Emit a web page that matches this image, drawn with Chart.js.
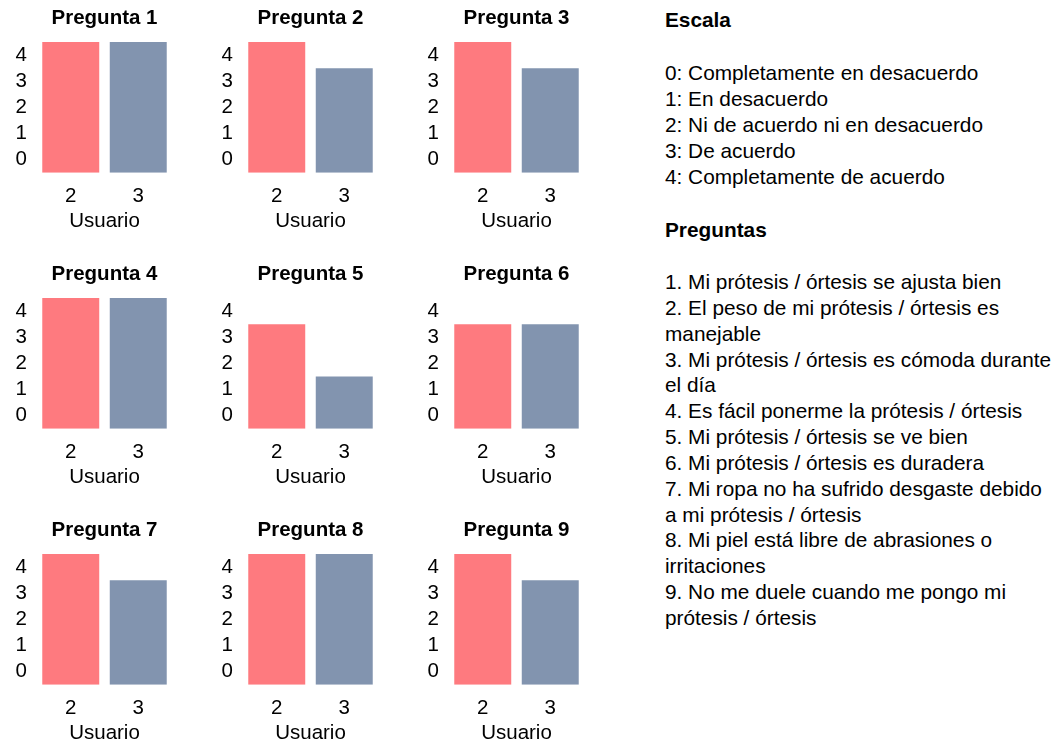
<!DOCTYPE html>
<html lang="es">
<head>
<meta charset="utf-8">
<title>Evaluación de prótesis / órtesis</title>
<script src="https://cdn.jsdelivr.net/npm/chart.js@4.4.1/dist/chart.umd.min.js"></script>
<style>
  body{margin:0;background:#fff;font-family:"Liberation Sans",Arial,sans-serif;color:#000}
  #wrap{position:relative;width:1055px;height:747px;overflow:hidden}
  .panel{position:absolute}
  .notes{position:absolute;left:665px;font-size:20.8px;line-height:26px;white-space:nowrap}
  .notes b{font-weight:bold}
</style>
</head>
<body>
<div id="wrap">
  <div class="notes" id="scaleHead" style="top:7px"><b>Escala</b></div>
  <div class="notes" id="scaleList" style="top:60px"></div>
  <div class="notes" id="questHead" style="top:217px"><b>Preguntas</b></div>
  <div class="notes" id="questList" style="top:269px;line-height:25.85px"></div>
</div>
<script>
(function () {
  'use strict';

  var QUESTIONS = ['Pregunta 1', 'Pregunta 2', 'Pregunta 3', 'Pregunta 4', 'Pregunta 5', 'Pregunta 6', 'Pregunta 7', 'Pregunta 8', 'Pregunta 9'];
  var USERS = ['2', '3'];
  var USER_2 = [4, 4, 4, 4, 3, 3, 4, 4, 4];
  var USER_3 = [4, 3, 3, 4, 1, 3, 3, 4, 3];
  var Y_TICKS = [0, 1, 2, 3, 4];
  var COLORS = ['#FE7A7F', '#8294AF'];

  var SCALE_TEXT = [
    '0: Completamente en desacuerdo',
    '1: En desacuerdo',
    '2: Ni de acuerdo ni en desacuerdo',
    '3: De acuerdo',
    '4: Completamente de acuerdo'
  ];
  var QUESTION_TEXT = [
    '1. Mi prótesis / órtesis se ajusta bien',
    '2. El peso de mi prótesis / órtesis es',
    'manejable',
    '3. Mi prótesis / órtesis es cómoda durante',
    'el día',
    '4. Es fácil ponerme la prótesis / órtesis',
    '5. Mi prótesis / órtesis se ve bien',
    '6. Mi prótesis / órtesis es duradera',
    '7. Mi ropa no ha sufrido desgaste debido',
    'a mi prótesis / órtesis',
    '8. Mi piel está libre de abrasiones o',
    'irritaciones',
    '9. No me duele cuando me pongo mi',
    'prótesis / órtesis'
  ];

  // cada valor ocupa una banda completa: la barra va del borde inferior de la banda 0
  // hasta el borde superior de la banda del valor
  var Y_MIN = -0.5;
  var Y_MAX = 4.5;
  var FONT_SIZE = 20.5;

  function fillLines(id, lines) {
    document.getElementById(id).innerHTML = lines.map(function (line) {
      return '<div>' + line + '</div>';
    }).join('');
  }

  fillLines('scaleList', SCALE_TEXT);
  fillLines('questList', QUESTION_TEXT);

  Chart.defaults.font.family = '"Liberation Sans", Arial, sans-serif';
  Chart.defaults.color = '#000';

  var wrap = document.getElementById('wrap');

  QUESTIONS.forEach(function (title, i) {
    var canvas = document.createElement('canvas');
    canvas.width = 206;
    canvas.height = 250;
    canvas.className = 'panel';
    canvas.style.left = (i % 3) * 206 + 'px';
    canvas.style.top = Math.floor(i / 3) * 256 + 'px';
    wrap.appendChild(canvas);

    var values = [USER_2[i], USER_3[i]];
    new Chart(canvas, {
      type: 'bar',
      data: {
        labels: USERS,
        datasets: [{
          data: values.map(function (v) { return [Y_MIN, v + 0.5]; }),
          backgroundColor: COLORS,
          borderWidth: 0,
          barPercentage: 0.844,
          categoryPercentage: 1
        }]
      },
      options: {
        responsive: false,
        animation: false,
        layout: {padding: {left: 0, right: 34, top: 0, bottom: 16}},
        plugins: {
          legend: {display: false},
          tooltip: {enabled: false},
          title: {display: true, text: title, fullSize: false, color: '#000', font: {size: FONT_SIZE, weight: 'bold'}, lineHeight: 1.2, padding: {top: 5.7, bottom: 11.7}}
        },
        scales: {
          x: {
            grid: {display: false, drawTicks: false},
            border: {display: false},
            ticks: {font: {size: FONT_SIZE}, padding: 11.7, maxRotation: 0},
            title: {display: true, text: 'Usuario', font: {size: FONT_SIZE}, padding: 0},
            afterFit: function (scale) { scale.height = 61.3; }
          },
          y: {
            min: Y_MIN,
            max: Y_MAX,
            grid: {display: false, drawTicks: false},
            border: {display: false},
            ticks: {font: {size: FONT_SIZE}, padding: 10},
            afterBuildTicks: function (scale) {
              scale.ticks = Y_TICKS.map(function (v) { return {value: v}; });
            },
            afterFit: function (scale) { scale.width = 37; }
          }
        }
      }
    });
  });
}());
</script>
</body>
</html>
